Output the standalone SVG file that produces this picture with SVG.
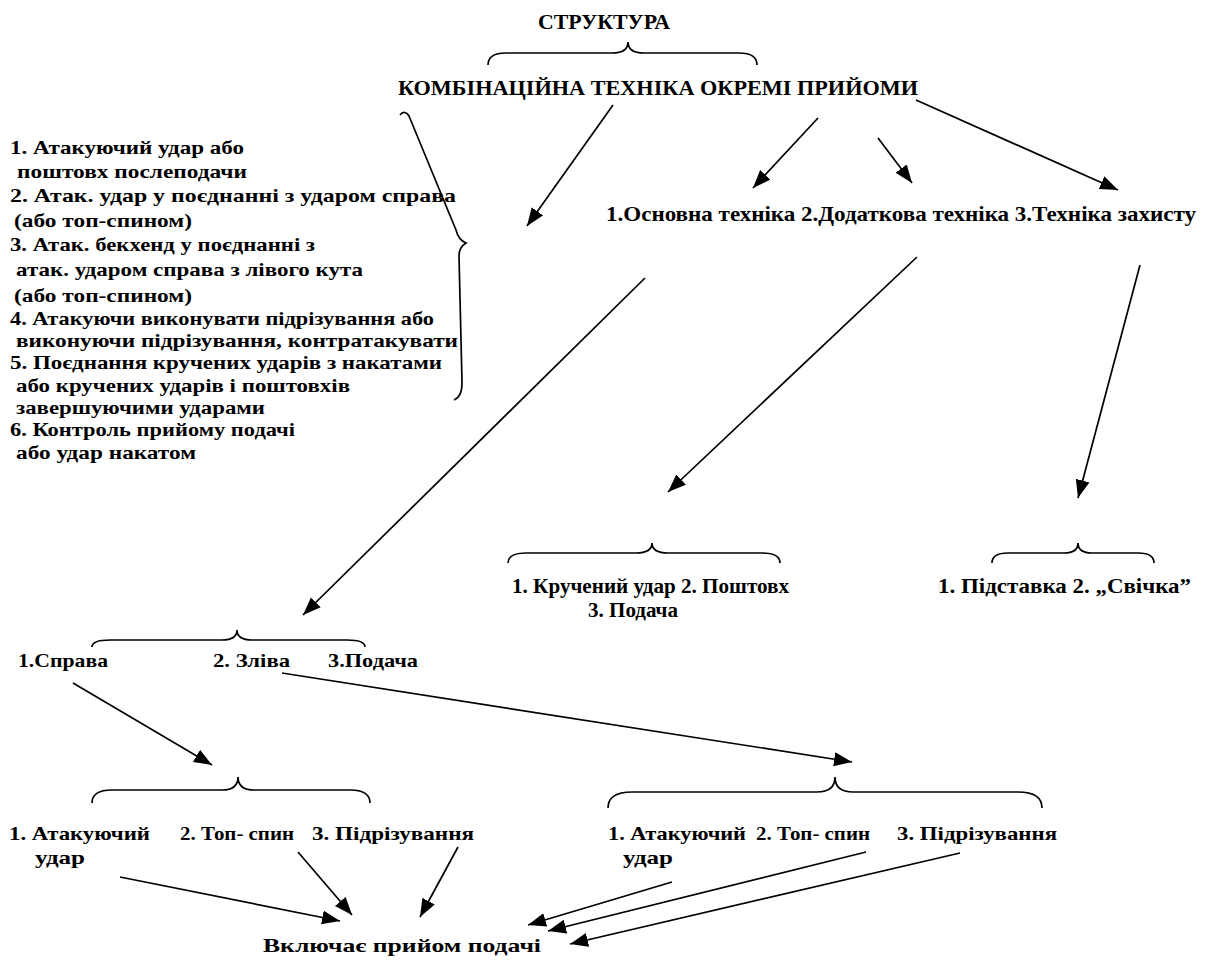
<svg xmlns="http://www.w3.org/2000/svg" width="1210" height="967" viewBox="0 0 1210 967">
<style>
.t{font-family:"Liberation Serif","Times New Roman","DejaVu Serif",serif;font-weight:bold;fill:#000;font-size:19px}
.h{font-size:21px}
.c{font-size:21px}
.b{fill:none;stroke:#000;stroke-width:1.7}
.ln{fill:none;stroke:#000;stroke-width:1.7;marker-end:url(#ah)}
</style>
<defs>
<marker id="ah" markerUnits="userSpaceOnUse" markerWidth="19" markerHeight="15" refX="18" refY="7" orient="auto">
<path d="M0,0 L18,7 L0,14 z" fill="#000"/>
</marker>
</defs>
<rect width="1210" height="967" fill="#fff"/>

<g id="title">
<text class="t h" x="538" y="29" textLength="132" lengthAdjust="spacingAndGlyphs">СТРУКТУРА</text>
<path class="b" d="M488,65 Q488,53 506,53 L612,53 Q628,53 628,42 Q628,53 644,53 L739,53 Q757,53 757,65"/>
</g>

<g id="main">
<text class="t h" x="398" y="95" textLength="520" lengthAdjust="spacingAndGlyphs">КОМБІНАЦІЙНА ТЕХНІКА ОКРЕМІ ПРИЙОМИ</text>
</g>

<g id="combo-list">
<path class="b" d="M400,115 C403,111 407,112 409,116 L456,230 C458,238 461,241 466,243 C461,246 459,250 459,256 L462,382 C462,392 460,397 454,400"/>
<text class="t" x="10" y="154" textLength="234" lengthAdjust="spacingAndGlyphs">1. Атакуючий удар або</text>
<text class="t" x="17" y="178" textLength="230" lengthAdjust="spacingAndGlyphs">поштовх  послеподачи</text>
<text class="t" x="10" y="202" textLength="446" lengthAdjust="spacingAndGlyphs">2. Атак. удар у поєднанні з ударом справа</text>
<text class="t" x="14" y="227" textLength="178" lengthAdjust="spacingAndGlyphs">(або топ-спином)</text>
<text class="t" x="10" y="251" textLength="305" lengthAdjust="spacingAndGlyphs">3. Атак. бекхенд у поєднанні з</text>
<text class="t" x="16" y="276" textLength="347" lengthAdjust="spacingAndGlyphs">атак. ударом справа з лівого кута</text>
<text class="t" x="14" y="302" textLength="178" lengthAdjust="spacingAndGlyphs">(або топ-спином)</text>
<text class="t" x="10" y="325" textLength="424" lengthAdjust="spacingAndGlyphs">4. Атакуючи виконувати підрізування або</text>
<text class="t" x="16" y="347" textLength="442" lengthAdjust="spacingAndGlyphs">виконуючи підрізування, контратакувати</text>
<text class="t" x="10" y="369" textLength="432" lengthAdjust="spacingAndGlyphs">5. Поєднання кручених ударів з накатами</text>
<text class="t" x="16" y="392" textLength="334" lengthAdjust="spacingAndGlyphs">або кручених ударів і поштовхів</text>
<text class="t" x="16" y="414" textLength="249" lengthAdjust="spacingAndGlyphs">завершуючими ударами</text>
<text class="t" x="10" y="436" textLength="285" lengthAdjust="spacingAndGlyphs">6. Контроль прийому подачі</text>
<text class="t" x="16" y="459" textLength="180" lengthAdjust="spacingAndGlyphs">або удар накатом</text>
</g>

<g id="separate">
<text class="t c" x="606" y="221" textLength="590" lengthAdjust="spacingAndGlyphs">1.Основна техніка 2.Додаткова техніка 3.Техніка захисту</text>
</g>

<g id="additional">
<path class="b" d="M508,563 Q508,553 526,553 L636,553 Q652,553 652,543 Q652,553 668,553 L762,553 Q780,553 780,563"/>
<text class="t c" x="512" y="593" textLength="277" lengthAdjust="spacingAndGlyphs">1. Кручений удар 2. Поштовх</text>
<text class="t c" x="588" y="617" textLength="90" lengthAdjust="spacingAndGlyphs">3. Подача</text>
</g>

<g id="defence">
<path class="b" d="M992,563 Q992,553 1008,553 L1064,553 Q1078,553 1078,543 Q1078,553 1092,553 L1138,553 Q1154,553 1154,563"/>
<text class="t c" x="938" y="593" textLength="253" lengthAdjust="spacingAndGlyphs">1. Підставка 2. „Свічка”</text>
</g>

<g id="basic">
<path class="b" d="M92,647 Q92,640 110,640 L222,640 Q237,640 237,630 Q237,640 252,640 L347,640 Q365,640 365,647"/>
<text class="t" x="18" y="667" textLength="90" lengthAdjust="spacingAndGlyphs">1.Справа</text>
<text class="t" x="213" y="667" textLength="77" lengthAdjust="spacingAndGlyphs">2. Зліва</text>
<text class="t" x="328" y="667" textLength="90" lengthAdjust="spacingAndGlyphs">3.Подача</text>
</g>

<g id="right-strokes">
<path class="b" d="M92,803 Q92,790 112,790 L222,790 Q238,790 238,777 Q238,790 254,790 L350,790 Q370,790 370,803"/>
<text class="t" x="9" y="840" textLength="141" lengthAdjust="spacingAndGlyphs">1. Атакуючий</text>
<text class="t" x="180" y="840" textLength="114" lengthAdjust="spacingAndGlyphs">2. Топ- спин</text>
<text class="t" x="312" y="840" textLength="162" lengthAdjust="spacingAndGlyphs">3. Підрізування</text>
<text class="t" x="35" y="864" textLength="50" lengthAdjust="spacingAndGlyphs">удар</text>
</g>

<g id="left-strokes">
<path class="b" d="M608,808 Q608,792 632,792 L817,792 Q835,792 835,777 Q835,792 853,792 L1018,792 Q1042,792 1042,808"/>
<text class="t" x="608" y="840" textLength="138" lengthAdjust="spacingAndGlyphs">1. Атакуючий</text>
<text class="t" x="756" y="840" textLength="114" lengthAdjust="spacingAndGlyphs">2. Топ- спин</text>
<text class="t" x="897" y="840" textLength="160" lengthAdjust="spacingAndGlyphs">3. Підрізування</text>
<text class="t" x="623" y="864" textLength="50" lengthAdjust="spacingAndGlyphs">удар</text>
</g>

<g id="serve">
<text class="t" x="263" y="952" textLength="278" lengthAdjust="spacingAndGlyphs">Включає прийом подачі</text>
</g>

<g id="connectors">
<line class="ln" x1="613" y1="105" x2="527" y2="226"/>
<line class="ln" x1="818" y1="118" x2="753" y2="188"/>
<line class="ln" x1="878" y1="138" x2="912" y2="183"/>
<line class="ln" x1="916" y1="100" x2="1118" y2="190"/>
<line class="ln" x1="645" y1="278" x2="303" y2="615"/>
<line class="ln" x1="917" y1="257" x2="668" y2="492"/>
<line class="ln" x1="1140" y1="265" x2="1078" y2="498"/>
<line class="ln" x1="73" y1="683" x2="212" y2="765"/>
<line class="ln" x1="282" y1="673" x2="852" y2="762"/>
<line class="ln" x1="120" y1="877" x2="340" y2="921"/>
<line class="ln" x1="298" y1="852" x2="352" y2="915"/>
<line class="ln" x1="458" y1="847" x2="420" y2="917"/>
<line class="ln" x1="672" y1="882" x2="528" y2="925"/>
<line class="ln" x1="866" y1="852" x2="548" y2="931"/>
<line class="ln" x1="960" y1="853" x2="570" y2="944"/>
</g>
</svg>
